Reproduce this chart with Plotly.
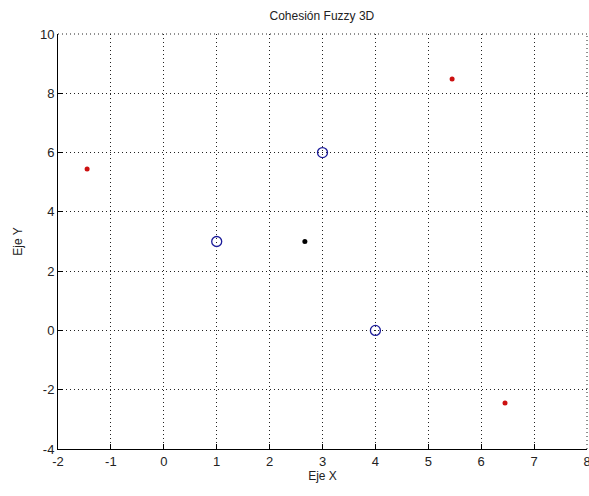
import plotly.graph_objects as go

# Data
circle_x = [1, 3, 4]
circle_y = [3, 6, 0]
center_x = [8 / 3]
center_y = [3]
red_x = [-1.45, 5.45, 6.45]
red_y = [5.45, 8.48, -2.45]

x_ticks = [-2, -1, 0, 1, 2, 3, 4, 5, 6, 7, 8]
y_ticks = [-4, -2, 0, 2, 4, 6, 8, 10]

fig = go.Figure()
fig.add_trace(go.Scatter(x=circle_x, y=circle_y, mode="markers",
                         marker=dict(symbol="circle-open", size=10, color="#1c1c9a",
                                     line=dict(width=1.3, color="#1c1c9a"))))
fig.add_trace(go.Scatter(x=center_x, y=center_y, mode="markers",
                         marker=dict(symbol="circle", size=5, color="black")))
fig.add_trace(go.Scatter(x=red_x, y=red_y, mode="markers",
                         marker=dict(symbol="circle", size=5, color="#cc1010")))

ff = "Liberation Sans, Arial, sans-serif"
font = dict(family=ff, size=13, color="#222")
grid_dash = "1px,3px"
axis_common = dict(
    showgrid=True, gridcolor="#222", griddash=grid_dash, gridwidth=1,
    zeroline=False, showline=True, linecolor="black", linewidth=1,
    ticks="inside", ticklen=5, tickcolor="black", mirror=False,
    tickfont=font, automargin=False, ticklabeloverflow="allow",
)
fig.update_layout(
    width=589, height=496,
    margin=dict(l=58, r=2, t=34, b=47),
    paper_bgcolor="white", plot_bgcolor="white",
    showlegend=False,
    title=dict(text="Cohesión Fuzzy 3D", x=0.5465, xanchor="center", y=0.968, yanchor="middle",
               font=dict(family=ff, size=12, color="#222")),
    xaxis=dict(range=[-2, 8], tickmode="array", tickvals=x_ticks,
               ticktext=[str(v) for v in x_ticks],
               title=dict(text="Eje X", font=dict(family=ff, size=12, color="#222"), standoff=4),
               **axis_common),
    yaxis=dict(range=[-4, 10], tickmode="array", tickvals=y_ticks,
               ticktext=[str(v) for v in y_ticks],
               title=dict(text="Eje Y", font=dict(family=ff, size=12, color="#222"), standoff=14),
               **axis_common),
    shapes=[
        dict(type="line", xref="paper", yref="paper", x0=0, x1=1, y0=1, y1=1,
             line=dict(color="#222", width=1, dash=grid_dash), layer="below"),
        dict(type="line", xref="paper", yref="paper", x0=1, x1=1, y0=0, y1=1,
             line=dict(color="#222", width=1, dash=grid_dash), layer="below"),
    ],
)

fig.write_html("out.html")
